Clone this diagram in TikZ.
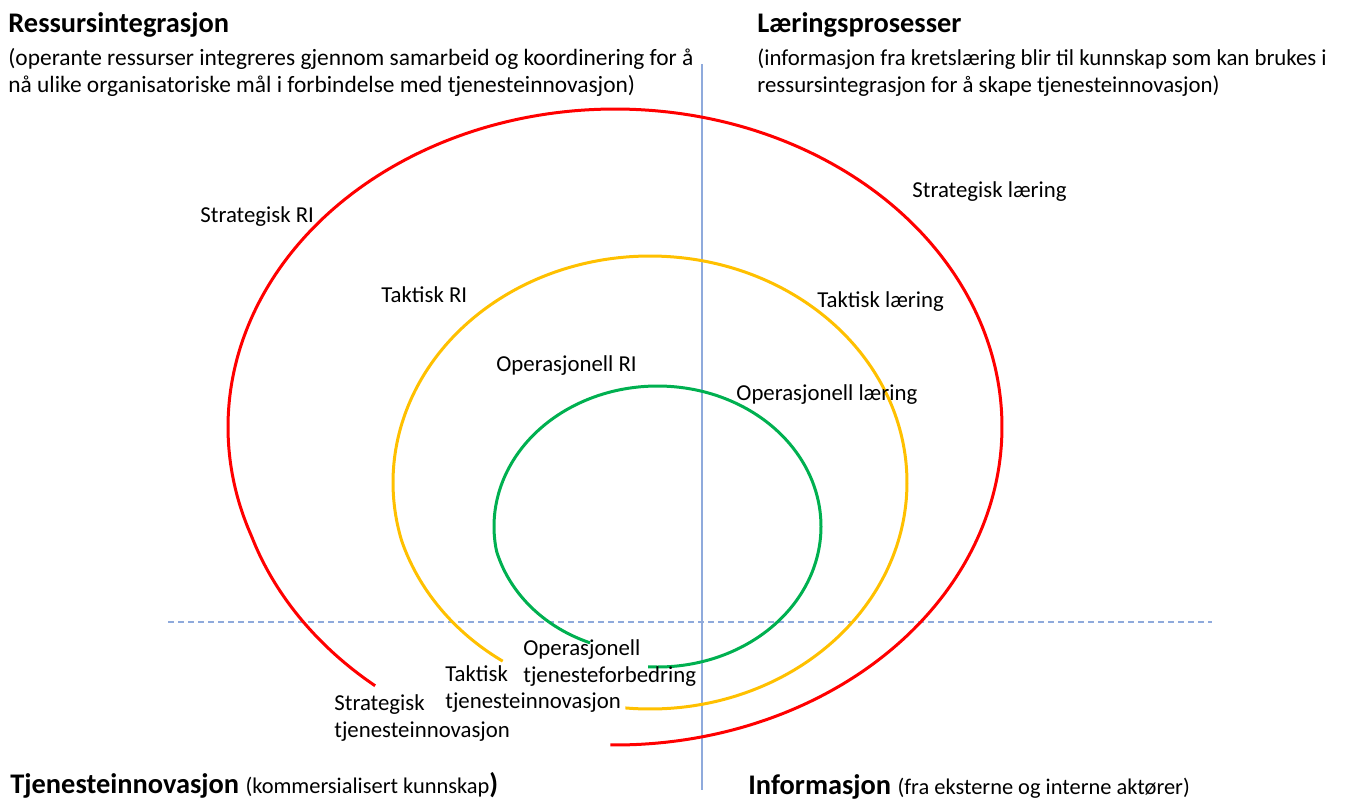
\documentclass[tikz,border=0pt]{standalone}
\usepackage{fontspec}
\setmainfont{Carlito}
\definecolor{spiralred}{RGB}{255,0,0}
\definecolor{spiralyellow}{RGB}{255,192,0}
\definecolor{spiralgreen}{RGB}{0,176,80}
\definecolor{axisblue}{RGB}{143,170,220}

\begin{document}
\begin{tikzpicture}[x=0.5pt,y=-0.5pt,
	lbl/.style={inner sep=0pt,anchor=base west,align=left,font=\fontsize{11.4}{13.5}\selectfont},
	toptxt/.style={lbl,font=\fontsize{11.4}{13.1}\selectfont},
	bigtxt/.style={lbl,font=\fontsize{11.7}{13.1}\selectfont},
	ttl/.style={inner sep=0pt,anchor=base west,font=\fontsize{14.2}{17}\selectfont\bfseries},
	spiral/.style={line width=1.5pt,smooth},
	axis/.style={axisblue,line width=0.75pt}]
	\useasboundingbox (0,0) rectangle (1345,799);
	% axes
	\coordinate (Vtop) at (702,64);
	\coordinate (Vbot) at (702,790);
	\coordinate (Hleft) at (168,622);
	\coordinate (Hright) at (1212,622);
	\draw[axis] (Vtop) -- (Vbot);
	\draw[axis,dash pattern=on 3pt off 2pt] (Hleft) -- (Hright);
	% spirals (near-elliptic, slightly wider or narrower at the open end)
	\draw[spiral,spiralred] plot[domain=127.3:450.7,samples=160]
		({615+387*(1+0.023*max(0,(160-\x)/32.7))*cos(\x)},{427+318*(1+0.023*max(0,(160-\x)/32.7))*sin(\x)});
	\draw[spiral,spiralyellow] plot[domain=126:455.5,samples=160]
		({650+257*(1-0.025*max(0,(165-\x)/39))*cos(\x)},{482.5+226.5*(1-0.025*max(0,(165-\x)/39))*sin(\x)});
	\draw[spiral,spiralgreen] plot[domain=116.5:453.3,samples=160]
		({657.5+163.5*(1-0.075*max(0,(170-\x)/53.5))*cos(\x)},{526.5+140.5*(1-0.075*max(0,(170-\x)/53.5))*sin(\x)});
	% headings
	\node[ttl] (resTitle) at (8,32) {Ressursintegrasjon};
	\node[bigtxt] (resText) at (8,92) {(operante ressurser integreres gjennom samarbeid og koordinering for å\\nå ulike organisatoriske mål i forbindelse med tjenesteinnovasjon)};
	\node[ttl] (laerTitle) at (757,32) {Læringsprosesser};
	\node[toptxt] (laerText) at (757,92) {(informasjon fra kretslæring blir til kunnskap som kan brukes i\\ressursintegrasjon for å skape tjenesteinnovasjon)};
	\node[ttl] (tjTitle) at (10,793) {Tjenesteinnovasjon {\mdseries\fontsize{11.2}{13.5}\selectfont (kommersialisert kunnskap})};
	\node[ttl] (infTitle) at (748,794) {Informasjon {\mdseries\fontsize{11.2}{13.5}\selectfont (fra eksterne og interne aktører)}};
	% labels
	\node[lbl] (stratRI) at (200,222) {Strategisk RI};
	\node[lbl] (taktRI) at (381,302) {Taktisk RI};
	\node[lbl] (opRI) at (496,371) {Operasjonell RI};
	\node[lbl] (stratL) at (912,197) {Strategisk læring};
	\node[lbl] (taktL) at (817,307) {Taktisk læring};
	\node[lbl] (opL) at (736,400) {Operasjonell læring};
	\node[lbl] (stratTI) at (334,737) {Strategisk\\tjenesteinnovasjon};
	\node[lbl] (taktTI) at (445,708) {Taktisk\\tjenesteinnovasjon};
	\node[lbl] (opTF) at (523,682) {Operasjonell\\tjenesteforbedring};
\end{tikzpicture}
\end{document}
